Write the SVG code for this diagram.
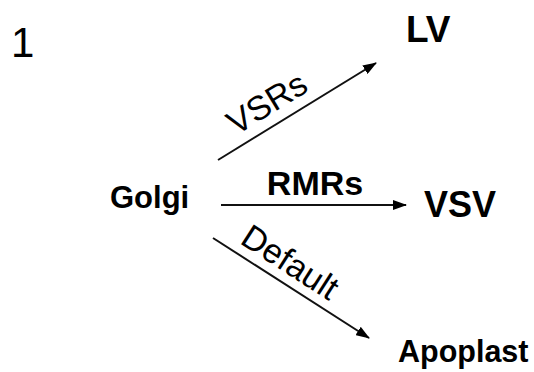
<svg xmlns="http://www.w3.org/2000/svg" width="534" height="372" viewBox="0 0 534 372">
  <style>
    .node { font-family: "Liberation Sans", Arial, sans-serif; font-weight: bold; fill: #000; }
    .lbl { font-family: "Liberation Sans", Arial, sans-serif; font-size: 34px; fill: #000; }
    .edge { stroke: #111; stroke-width: 2; fill: none; marker-end: url(#arrow); }
  </style>
  <defs>
    <marker id="arrow" viewBox="0 0 14 10" refX="13" refY="5" markerWidth="14" markerHeight="10" markerUnits="userSpaceOnUse" orient="auto">
      <path d="M0,0 L14,5 L0,10 Z" fill="#000"/>
    </marker>
  </defs>
  <rect width="534" height="372" fill="#fff"/>

  <text x="11" y="57" font-family="Liberation Sans, Arial, sans-serif" font-size="42" fill="#000">1</text>

  <g id="connectors">
    <line class="edge" x1="218" y1="160" x2="376" y2="63"/>
    <line class="edge" x1="221" y1="205" x2="406" y2="205"/>
    <line class="edge" x1="213" y1="238" x2="369" y2="338"/>
    <text class="lbl" transform="translate(273 113) rotate(-31.5)" text-anchor="middle">VSRs</text>
    <text class="lbl" x="315" y="195" text-anchor="middle" font-weight="bold" font-size="33">RMRs</text>
    <text class="lbl" transform="translate(284 272) rotate(32.8)" text-anchor="middle">Default</text>
  </g>

  <g id="golgi"><text class="node" x="110" y="208" font-size="31">Golgi</text></g>
  <g id="lv"><text class="node" x="406" y="42" font-size="37">LV</text></g>
  <g id="vsv"><text class="node" x="424" y="217" font-size="36">VSV</text></g>
  <g id="apoplast"><text class="node" x="398" y="362" font-size="30.5">Apoplast</text></g>
</svg>
